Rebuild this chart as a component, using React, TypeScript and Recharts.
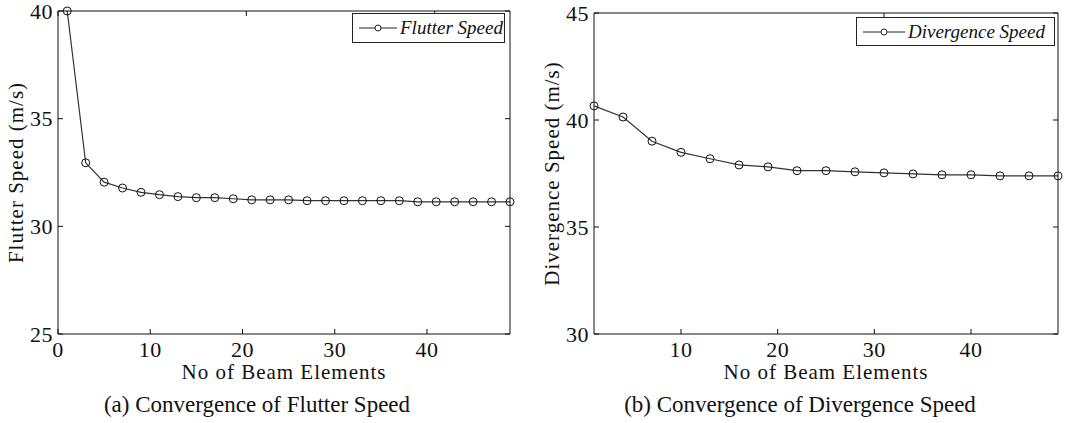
import React from 'react';
import { LineChart, Line, XAxis, YAxis, Legend } from 'recharts';

// (a) flutter speed vs number of beam elements
const flutterElements = [1, 3, 5, 7, 9, 11, 13, 15, 17, 19, 21, 23, 25, 27, 29, 31, 33, 35, 37, 39, 41, 43, 45, 47, 49];
const flutterSpeed = [40.0, 32.95, 32.05, 31.78, 31.58, 31.47, 31.38, 31.33, 31.33, 31.28, 31.23, 31.23, 31.23, 31.19, 31.19, 31.19, 31.19, 31.19, 31.19, 31.14, 31.14, 31.14, 31.14, 31.14, 31.14];
const flutterXTicks = [0, 10, 20, 30, 40];
const flutterYTicks = [25, 30, 35, 40];

// (b) divergence speed vs number of beam elements
const divElements = [1, 4, 7, 10, 13, 16, 19, 22, 25, 28, 31, 34, 37, 40, 43, 46, 49];
const divSpeed = [40.66, 40.14, 39.01, 38.49, 38.19, 37.9, 37.81, 37.63, 37.63, 37.58, 37.53, 37.48, 37.44, 37.44, 37.39, 37.39, 37.39];
const divXTicks = [10, 20, 30, 40];
const divYTicks = [30, 35, 40, 45];

const flutterData = flutterElements.map((n, i) => ({ n, v: flutterSpeed[i] }));
const divData = divElements.map((n, i) => ({ n, v: divSpeed[i] }));

const SERIF = '"Liberation Serif", "DejaVu Serif", serif';
const INK = '#111';

const XTick = (props: any) => (
  <text x={props.x} y={props.y} dy="0.71em" textAnchor="middle" fontFamily={SERIF} fontSize={22} letterSpacing={0.5} fill={INK}>
    {props.payload.value}
  </text>
);

const YTick = (props: any) => (
  <text x={props.x} y={props.y} dy="0.35em" textAnchor="end" fontFamily={SERIF} fontSize={22} letterSpacing={0.5} fill={INK}>
    {props.payload.value}
  </text>
);

const xLabel = (bottomGap: number) => (props: any) => {
  const vb = props.viewBox;
  return (
    <text
      x={vb.x + vb.width / 2}
      y={vb.y + vb.height - bottomGap}
      textAnchor="middle"
      fontFamily={SERIF}
      fontSize={21}
      letterSpacing={1}
      fill={INK}
    >
      No of Beam Elements
    </text>
  );
};

const yLabel = (text: string, cx: number) => (props: any) => {
  const vb = props.viewBox;
  const cy = vb.y + vb.height / 2;
  return (
    <text
      x={cx}
      y={cy}
      dy="0.35em"
      transform={`rotate(-90 ${cx} ${cy})`}
      textAnchor="middle"
      fontFamily={SERIF}
      fontSize={21}
      letterSpacing={1}
      fill={INK}
    >
      {text}
    </text>
  );
};

const makeLegend = (name: string, lineW: number, textGap: number) => () => (
  <div
    style={{
      border: '1px solid #222',
      background: '#fff',
      height: '100%',
      boxSizing: 'border-box',
      display: 'flex',
      alignItems: 'center',
      paddingLeft: 6,
      fontFamily: SERIF,
      fontStyle: 'italic',
      fontSize: 19,
      color: INK,
      whiteSpace: 'nowrap',
    }}
  >
    <svg width={lineW} height={12} style={{ marginRight: textGap }}>
      <line x1={0} y1={6} x2={lineW} y2={6} stroke="#222" strokeWidth={1} />
      <circle cx={lineW / 2} cy={6} r={3} fill="#fff" stroke="#222" strokeWidth={1} />
    </svg>
    <span>{name}</span>
  </div>
);

interface PanelProps {
  data: { n: number; v: number }[];
  xDomain: [number, number];
  yDomain: [number, number];
  xTicks: number[];
  yTicks: number[];
  width: number;
  yAxisWidth: number;
  marginTop: number;
  marginRight: number;
  yLabel: string;
  yLabelX: number;
  legendName: string;
  legendBox: { left: number; top: number; width: number; height: number };
  legendLineW: number;
  legendGap: number;
}

function Panel(p: PanelProps) {
  return (
    <LineChart
      width={p.width}
      height={423}
      data={p.data}
      margin={{ top: p.marginTop, right: p.marginRight, bottom: 0, left: 0 }}
    >
      <XAxis
        dataKey="n"
        type="number"
        domain={p.xDomain}
        ticks={p.xTicks}
        interval={0}
        height={89}
        tickSize={-5}
        tickMargin={12}
        stroke={INK}
        tick={<XTick />}
        label={{ content: xLabel(44) }}
      />
      <XAxis
        xAxisId="top"
        orientation="top"
        type="number"
        domain={p.xDomain}
        ticks={p.xTicks}
        allowDataOverflow
        interval={0}
        height={1}
        tickSize={-5}
        stroke={INK}
        tickFormatter={() => ''}
      />
      <YAxis
        type="number"
        domain={p.yDomain}
        ticks={p.yTicks}
        interval={0}
        width={p.yAxisWidth}
        tickSize={-5}
        tickMargin={10}
        stroke={INK}
        tick={<YTick />}
        label={{ content: yLabel(p.yLabel, p.yLabelX) }}
      />
      <YAxis
        yAxisId="right"
        orientation="right"
        type="number"
        domain={p.yDomain}
        ticks={p.yTicks}
        allowDataOverflow
        interval={0}
        width={1}
        tickSize={-5}
        stroke={INK}
        tickFormatter={() => ''}
      />
      <Legend
        layout="vertical"
        align="center"
        verticalAlign="middle"
        wrapperStyle={{ ...p.legendBox, position: 'absolute' }}
        content={makeLegend(p.legendName, p.legendLineW, p.legendGap)}
      />
      <Line
        dataKey="v"
        name={p.legendName}
        type="linear"
        stroke="#333"
        strokeWidth={1.2}
        dot={{ r: 4, stroke: INK, strokeWidth: 1, fill: 'none' }}
        activeDot={false}
        isAnimationActive={false}
      />
    </LineChart>
  );
}

const captionStyle: React.CSSProperties = {
  position: 'absolute',
  top: 392,
  fontFamily: SERIF,
  fontSize: 23,
  lineHeight: '26px',
  color: INK,
  textAlign: 'center',
  whiteSpace: 'nowrap',
};

export default function App() {
  return (
    <div style={{ position: 'absolute', left: 0, top: 0, width: 1089, height: 423, background: '#fff' }}>
      <div style={{ position: 'absolute', left: 0, top: 0 }}>
        <Panel
          data={flutterData}
          xDomain={[0, 49]}
          yDomain={[25, 40]}
          xTicks={flutterXTicks}
          yTicks={flutterYTicks}
          width={540}
          yAxisWidth={58}
          marginTop={10}
          marginRight={29}
          yLabel="Flutter Speed (m/s)"
          yLabelX={16}
          legendName="Flutter Speed"
          legendBox={{ left: 352, top: 13, width: 153, height: 30 }}
          legendLineW={38}
          legendGap={3}
        />
      </div>
      <div style={{ position: 'absolute', left: 540, top: 0 }}>
        <Panel
          data={divData}
          xDomain={[1, 49]}
          yDomain={[30, 45]}
          xTicks={divXTicks}
          yTicks={divYTicks}
          width={549}
          yAxisWidth={54}
          marginTop={12}
          marginRight={30}
          yLabel="Divergence Speed (m/s)"
          yLabelX={12}
          legendName="Divergence Speed"
          legendBox={{ left: 316, top: 17, width: 199, height: 29 }}
          legendLineW={42}
          legendGap={3}
        />
      </div>
      <div style={{ ...captionStyle, left: 57, width: 400 }}>(a) Convergence of Flutter Speed</div>
      <div style={{ ...captionStyle, left: 600, width: 400 }}>(b) Convergence of Divergence Speed</div>
    </div>
  );
}
